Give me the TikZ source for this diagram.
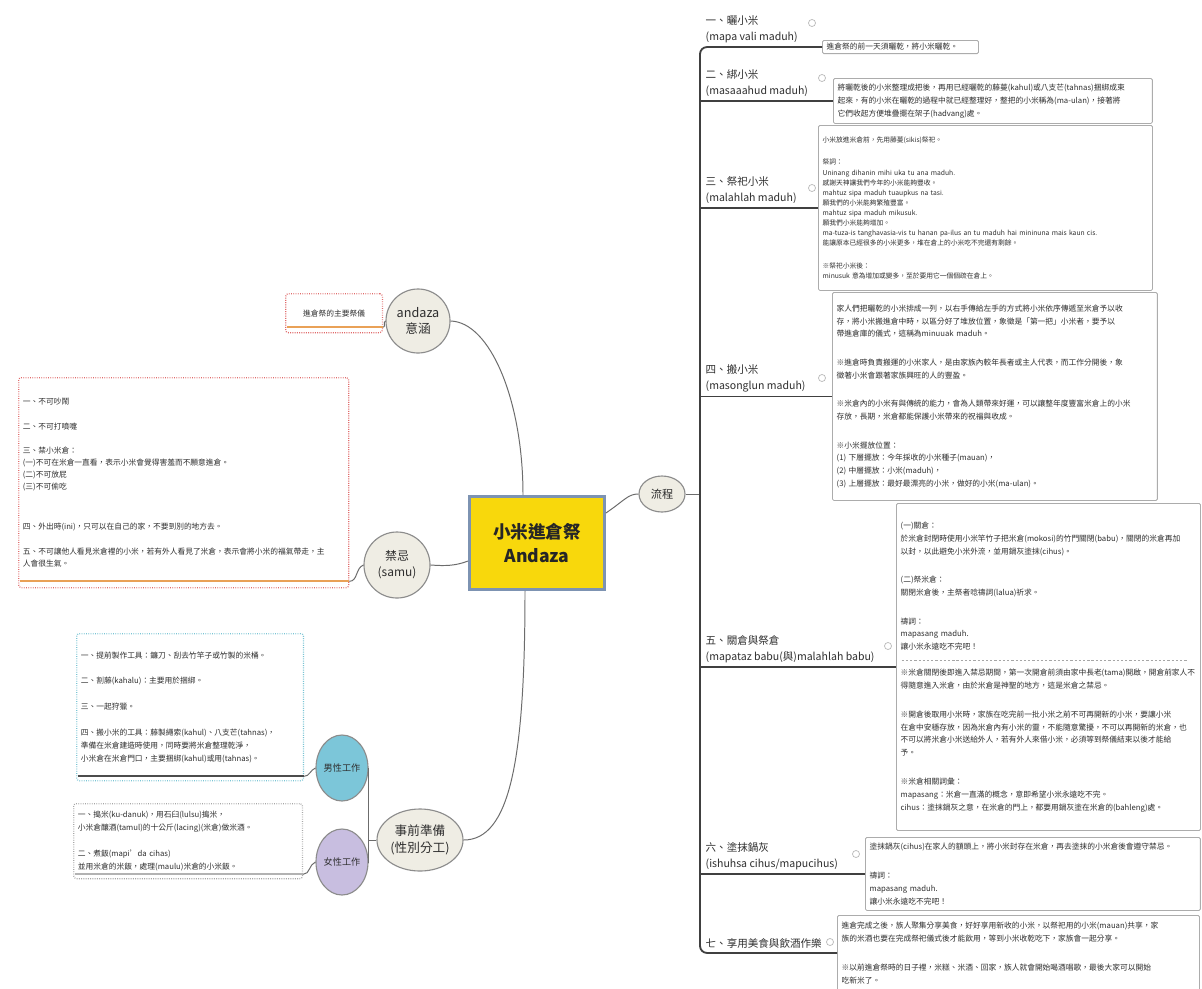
\documentclass[tikz,border=0pt]{standalone}
\usepackage{fontspec}
\setmainfont{Noto Sans CJK TC}
\usetikzlibrary{calc,shapes.geometric}

\definecolor{nodebg}{HTML}{EFEDE4}
\definecolor{nodeline}{HTML}{8C8C8C}
\definecolor{keyyellow}{HTML}{F8D80C}
\definecolor{keyframe}{HTML}{7D93B2}
\definecolor{malefill}{HTML}{7CC6D9}
\definecolor{femalefill}{HTML}{C8BEE0}
\definecolor{notered}{HTML}{E06A6A}
\definecolor{noteorange}{HTML}{E9A157}
\definecolor{notecyan}{HTML}{78C4D4}
\definecolor{textdark}{HTML}{2E2E2E}

\newcommand{\notesize}{\fontsize{5.5}{9.2}\selectfont}
\newcommand{\smallnote}{\fontsize{4.8}{7.2}\selectfont}
\newcommand{\pgap}{\\[11pt]}
\newcommand{\sgap}{\\[9pt]}
\newcommand{\dashsep}{\leavevmode\hbox to 0.98\hsize{\color{gray!70}\leaders\hbox to 3pt{\hss\rule[1.8pt]{1.6pt}{0.4pt}\hss}\hfill}}

\tikzset{
  topic/.style={ellipse, draw=nodeline, fill=nodebg, line width=0.8pt, inner sep=0pt, align=center, text=textdark},
  keynode/.style={rectangle, draw=keyframe, fill=keyyellow, line width=2pt, minimum width=3.375cm, minimum height=2.325cm, align=center, font=\bfseries\fontsize{12.5}{17}\selectfont, text=black!85},
  rnote/.style={draw=gray!65, fill=white, line width=0.6pt, rounded corners=1pt, anchor=north west, align=left, inner xsep=3pt, inner ysep=2pt, font=\notesize, text=textdark},
  lnote/.style={rnote, densely dotted, line width=0.9pt, rounded corners=2pt},
  head/.style={anchor=south west, align=left, inner sep=1pt, font=\fontsize{7.5}{11.4}\selectfont, text=textdark},
  link/.style={draw=gray!85!black, line width=0.7pt},
  trunk/.style={draw=black!75, line width=1.3pt},
  fold/.style={circle, draw=gray!55, fill=white, line width=0.5pt, inner sep=0pt, minimum size=5pt},
}

\begin{document}
\begin{tikzpicture}[x=0.025cm, y=-0.025cm]
\fill[white] (0,0) rectangle (1202,988);
\useasboundingbox (0,0) rectangle (1202,988);

% main topics
\node[keynode] (key) at (537,543) {小米進倉祭\\Andaza};
\node[topic, minimum width=1.15cm, minimum height=0.9cm, font=\fontsize{8}{10}\selectfont] (flow) at (662,494) {流程};
\node[topic, minimum width=1.6cm, minimum height=1.6cm, font=\fontsize{9}{12}\selectfont] (andaza) at (418,321) {andaza\\意涵};
\node[topic, minimum width=1.65cm, minimum height=1.65cm, font=\fontsize{8.5}{11.5}\selectfont] (samu) at (397,565) {禁忌\\(samu)};
\node[topic, minimum width=2.15cm, minimum height=1.55cm, font=\fontsize{9}{12.5}\selectfont] (prep) at (420,840) {事前準備\\(性別分工)};
\node[topic, fill=malefill, minimum width=1.3cm, minimum height=1.65cm, font=\fontsize{6.5}{8}\selectfont] (male) at (342,768) {男性工作};
\node[topic, fill=femalefill, minimum width=1.3cm, minimum height=1.65cm, font=\fontsize{6.5}{8}\selectfont] (female) at (342,862) {女性工作};

% left notes
\node[lnote, draw=notered, align=center, text width=2.21cm, minimum height=0.975cm] (andazanote) at (285,293) {進倉祭的主要祭儀};
\node[lnote, draw=notered, text width=8.04cm, minimum height=5.25cm, font=\fontsize{5.5}{8.5}\selectfont] (samunote) at (18,377) {一、不可吵鬧\sgap
二、不可打噴嚏\sgap
三、禁小米倉：\\
(一)不可在米倉一直看，表示小米會覺得害羞而不願意進倉。\\
(二)不可放屁\\
(三)不可偷吃\\[20pt]
四、外出時(ini)，只可以在自己的家，不要到別的地方去。\sgap
五、不可讓他人看見米倉裡的小米，若有外人看見了米倉，表示會將小米的福氣帶走，主\\
人會很生氣。};
\node[lnote, draw=notecyan, text width=5.46cm, minimum height=3.675cm] (malenote) at (76,633) {一、提前製作工具：鐮刀、刮去竹竿子或竹製的米桶。\sgap
二、割藤(kahalu)：主要用於捆綁。\sgap
三、一起狩獵。\sgap
四、搬小米的工具：藤製繩索(kahul)、八支芒(tahnas)，\\
準備在米倉建造時使用，同時要將米倉整理乾淨，\\
小米倉在米倉門口，主要捆綁(kahul)或用(tahnas)。};
\node[lnote, draw=gray!70, text width=5.51cm, minimum height=1.875cm] (femalenote) at (73,803) {一、搗米(ku-danuk)，用石臼(lulsu)搗米，\\
小米倉釀酒(tamul)的十公斤(lacing)(米倉)做米酒。\sgap
二、煮飯(mapi'da cihas)\\
並用米倉的米飯，處理(maulu)米倉的小米飯。};

% right notes
\node[rnote, text width=3.69cm, minimum height=0.33cm, inner ysep=1pt] (s1) at (822,40) {進倉祭的前一天須曬乾，將小米曬乾。};
\node[rnote, text width=7.76cm, minimum height=1.125cm] (s2) at (833,78) {將曬乾後的小米整理成把後，再用已經曬乾的藤蔓(kahul)或八支芒(tahnas)捆綁成束\\
起來，有的小米在曬乾的過程中就已經整理好，整把的小米稱為(ma-ulan)，接著將\\
它們收起方便堆疊擺在架子(hadvang)處。};
\node[rnote, text width=8.14cm, minimum height=4.125cm, font=\smallnote] (s3) at (818,125) {小米放進米倉前，先用藤蔓(sikis)祭祀。\\[9pt]
祭詞：\\
Uninang dihanin mihi uka tu ana maduh.\\
感謝天神讓我們今年的小米能夠豐收。\\
mahtuz sipa maduh tuaupkus na tasi.\\
願我們的小米能夠繁殖豐富。\\
mahtuz sipa maduh mikusuk.\\
願我們小米能夠增加。\\
ma-tuza-is tanghavasia-vis tu hanan pa-ilus an tu maduh hai mininuna mais kaun cis.\\
能讓原本已經很多的小米更多，堆在倉上的小米吃不完還有剩餘。\\[9pt]
※祭祀小米後：\\
minusuk 意為增加或變多，至於要用它一個個疏在倉上。};
\node[rnote, text width=7.91cm, minimum height=5.2cm] (s4) at (832,292) {家人們把曬乾的小米排成一列，以右手傳給左手的方式將小米依序傳遞至米倉予以收\\
存，將小米搬進倉中時，以區分好了堆放位置，象徵是「第一把」小米者，要予以\\
帶進倉庫的儀式，這稱為minuuak maduh。\pgap
※進倉時負責搬運的小米家人，是由家族內較年長者或主人代表，而工作分開後，象\\
徵著小米會跟著家族興旺的人的豐盈。\pgap
※米倉內的小米有與傳統的能力，會為人類帶來好運，可以讓整年度豐富米倉上的小米\\
存放，長期，米倉都能保護小米帶來的祝福與收成。\pgap
※小米擺放位置：\\
(1) 下層擺放：今年採收的小米種子(mauan)，\\
(2) 中層擺放：小米(maduh)，\\
(3) 上層擺放：最好最漂亮的小米，做好的小米(ma-ulan)。};
\node[rnote, text width=7.39cm, minimum height=8.175cm] (s5) at (896,503) {(一)關倉：\\
於米倉封閉時使用小米竿竹子把米倉(mokosi)的竹門關閉(babu)，關閉的米倉再加\\
以封，以此避免小米外流，並用鍋灰塗抹(cihus)。\pgap
(二)祭米倉：\\
關閉米倉後，主祭者唸禱詞(lalua)祈求。\pgap
禱詞：\\
mapasang maduh.\\
讓小米永遠吃不完吧！\\
\dashsep\\
※米倉關閉後即進入禁忌期間，第一次開倉前須由家中長老(tama)開啟，開倉前家人不\\
得隨意進入米倉，由於米倉是神聖的地方，這是米倉之禁忌。\pgap
※開倉後取用小米時，家族在吃完前一批小米之前不可再開新的小米，要讓小米\\
在倉中安穩存放，因為米倉內有小米的靈，不能隨意驚擾，不可以再開新的米倉，也\\
不可以將米倉小米送給外人，若有外人來借小米，必須等到祭儀結束以後才能給\\
予。\pgap
※米倉相關詞彙：\\
mapasang：米倉一直滿的概念，意即希望小米永遠吃不完。\\
cihus：塗抹鍋灰之意，在米倉的門上，都要用鍋灰塗在米倉的(bahleng)處。};
\node[rnote, text width=8.16cm, minimum height=1.825cm] (s6) at (865,837) {塗抹鍋灰(cihus)在家人的額頭上，將小米封存在米倉，再去塗抹的小米倉後會遵守禁忌。\pgap
禱詞：\\
mapasang maduh.\\
讓小米永遠吃不完吧！};
\node[rnote, text width=8.84cm, minimum height=1.875cm] (s7) at (837,915) {進倉完成之後，族人聚集分享美食，好好享用新收的小米，以祭祀用的小米(mauan)共享，家\\
族的米酒也要在完成祭祀儀式後才能飲用，等到小米收乾吃下，家族會一起分享。\pgap
※以前進倉祭時的日子裡，米糕、米酒、回家，族人就會開始喝酒唱歌，最後大家可以開始\\
吃新米了。};

% headings
\node[head] (h1) at (704,44.5) {一、曬小米\\(mapa vali maduh)};
\node[head] (h2) at (704,98.5) {二、綁小米\\(masaaahud maduh)};
\node[head] (h3) at (704,205.5) {三、祭祀小米\\(malahlah maduh)};
\node[head] (h4) at (704,394) {四、搬小米\\(masonglun maduh)};
\node[head] (h5) at (704,664.5) {五、關倉與祭倉\\(mapataz babu(與)malahlah babu)};
\node[head] (h6) at (704,871.5) {六、塗抹鍋灰\\(ishuhsa cihus/mapucihus)};
\node[head] (h7) at (704,950) {七、享用美食與飲酒作樂};

\node[fold] (f1) at (812,23) {};
\node[fold] (f2) at (822,78) {};
\node[fold] (f3) at (812,188) {};
\node[fold] (f4) at (822,378) {};
\node[fold] (f5) at (888,646) {};
\node[fold] (f6) at (856,854) {};
\node[fold] (f7) at (830,942) {};

% connectors
\draw[link] (andaza.east) .. controls (490,322) and (523,400) .. ($(key.north)+(-14,0)$);
\draw[link] ($(key.west)+(0,18)$) .. controls (455,566) and (445,566) .. (samu.east);
\draw[link] ($(key.south)+(-12,0)$) .. controls (525,760) and (510,840) .. (prep.east);
\draw[link] ($(key.east)+(0,-30)$) .. controls (625,500) and (628,494) .. (flow.west);

\coordinate (tr) at (700,494);
\draw[link] (flow.east) -- (tr);
\draw[trunk, rounded corners=5pt] (s1.west) -- (tr |- s1.west) -- (tr |- s7.west) -- (s7.west);
\foreach \s in {s2,s3,s4,s5,s6}
  \draw[trunk] (tr |- \s.west) -- (\s.west);

\coordinate (fork) at ($(prep.west)+(-8,0)$);
\draw[link] (prep.west) -- (fork);
\draw[link] (male.east) -| (fork) |- (female.east);

\draw[noteorange, line width=1.6pt] ($(andazanote.south west)+(2,-6)$) -- ($(andazanote.south east)+(0,-6)$) coordinate (a1);
\draw[link] (a1) to[out=0, in=200] (andaza.west);
\draw[noteorange, line width=1.6pt] ($(samunote.south west)+(2,-7)$) -- ($(samunote.south east)+(0,-7)$) coordinate (a2);
\draw[link] (a2) to[out=0, in=200] (samu.west);
\draw[gray!60!black, line width=1.2pt] ($(malenote.south west)+(2,-5)$) -- ($(malenote.south east)+(0,-5)$) coordinate (a3);
\draw[link] (a3) to[out=0, in=200] (male.west);
\draw[gray!60, line width=1.2pt] ($(femalenote.south west)+(2,-5)$) -- ($(femalenote.south east)+(0,-5)$) coordinate (a4);
\draw[link] (a4) to[out=0, in=200] (female.west);
\end{tikzpicture}
\end{document}
